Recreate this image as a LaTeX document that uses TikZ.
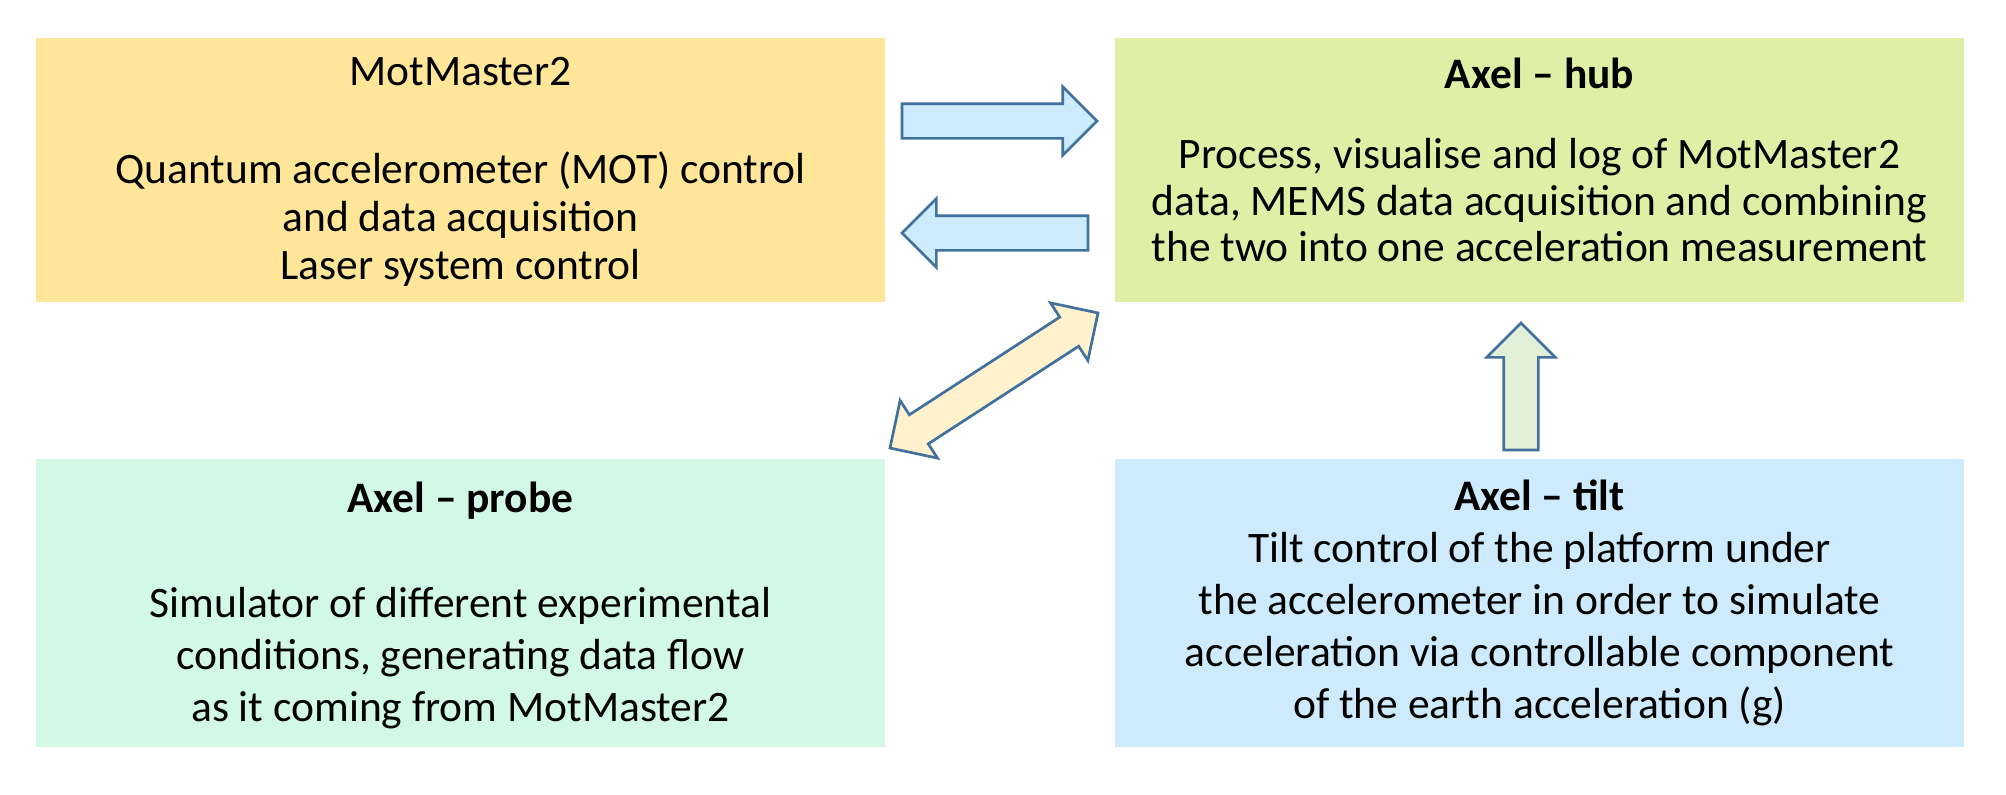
\documentclass[tikz,border=0pt]{standalone}
\usepackage{fontspec}
\setmainfont{Carlito}
\usetikzlibrary{positioning,shapes.arrows}

\definecolor{motfill}{HTML}{FFE699}
\definecolor{hubfill}{HTML}{E0EFA6}
\definecolor{probefill}{HTML}{D2F8E6}
\definecolor{tiltfill}{HTML}{CDEBFC}
\definecolor{arrowline}{HTML}{41719C}
\definecolor{arrowblue}{HTML}{CCEBFC}
\definecolor{arrowpair}{HTML}{FFF2CC}
\definecolor{arrowup}{HTML}{E2EFD9}

\begin{document}
\begin{tikzpicture}[x=1pt,y=-1pt,
  box/.style={rectangle,minimum width=849pt,inner sep=0pt,outer sep=0pt},
  txt/.style={align=center,inner sep=0pt,font=\fontsize{43.5}{48}\selectfont},
  blockarrow/.style={single arrow,draw=arrowline,line width=2.7pt,inner xsep=0pt,inner ysep=16pt,
    single arrow head extend=17pt,single arrow tip angle=90,outer sep=0pt},
  pairarrow/.style={double arrow,draw=arrowline,line width=2.7pt,inner xsep=0pt,inner ysep=16pt,
    double arrow head extend=17pt,double arrow tip angle=90,outer sep=0pt}]
  \useasboundingbox (0,0) rectangle (2006,795);
  % boxes
  \node[box,fill=motfill,minimum height=264pt,anchor=north west] (mot) at (36,38) {};
  \node[box,fill=hubfill,minimum height=264pt,right=230pt of mot] (hub) {};
  \node[box,fill=probefill,minimum height=288pt,below=157pt of mot] (probe) {};
  \node[box,fill=tiltfill,minimum height=288pt,below=157pt of hub] (tilt) {};
  % texts
  \node[txt] (mottext) at ([yshift=-2pt]mot.center) {MotMaster2\\[50pt]Quantum accelerometer (MOT) control\\
    and data acquisition\\Laser system control};
  \node[txt,font=\fontsize{43.5}{46.5}\selectfont] (hubtext) at ([yshift=10pt]hub.center)
    {\textbf{Axel -- hub}\\[33.5pt]Process, visualise and log of MotMaster2\\
    data, MEMS data acquisition and combining\\the two into one acceleration measurement};
  \node[txt,font=\fontsize{43.5}{52}\selectfont] (probetext) at ([yshift=-2pt]probe.center)
    {\textbf{Axel -- probe}\\[53pt]Simulator of different experimental\\
    conditions, generating data flow\\as it coming from MotMaster2};
  \node[txt,font=\fontsize{43.5}{52}\selectfont] (tilttext) at (tilt)
    {\textbf{Axel -- tilt}\\Tilt control of the platform under\\
    the accelerometer in order to simulate\\acceleration via controllable component\\
    of the earth acceleration (g)};
  % block arrows
  \node[blockarrow,fill=arrowblue,minimum height=195pt,anchor=tail] (tohub) at (902,121) {};
  \node[blockarrow,fill=arrowblue,minimum height=186pt,anchor=tail,rotate=180] (tomot) at (1088,233) {};
  \node[blockarrow,fill=arrowup,minimum height=127pt,anchor=tail,rotate=90] (tiltup) at (1521,450) {};
  \node[pairarrow,fill=arrowpair,minimum height=248pt,rotate=33] (probehub) at (994,380.5) {};
\end{tikzpicture}
\end{document}
